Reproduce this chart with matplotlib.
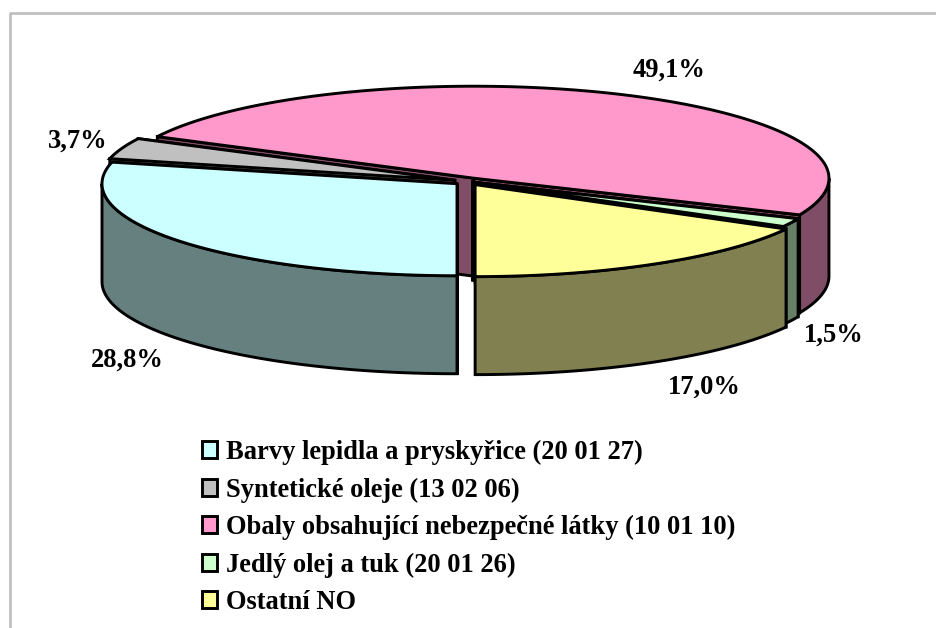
import numpy as np
import matplotlib
matplotlib.use("Agg")
import matplotlib.pyplot as plt
from matplotlib.patches import Patch, Polygon

categories = [
    "Barvy lepidla a pryskyřice (20 01 27)",
    "Syntetické oleje (13 02 06)",
    "Obaly obsahující nebezpečné látky (10 01 10)",
    "Jedlý olej a tuk (20 01 26)",
    "Ostatní NO",
]
values = [28.8, 3.7, 49.1, 1.5, 17.0]
colors = ["#CCFFFF", "#C0C0C0", "#FF99CC", "#CCFFCC", "#FFFF99"]
side_colors = ["#668080", "#606060", "#804D66", "#668066", "#808050"]

# vzhled grafu (pixely)
explode = [14, 14, 14, 5, 14]
label_xy = [(127, 360), (78, 141), (669, 70), (834, 335), (704, 387)]
draw_order = [2, 1, 3, 0, 4]
cx, cy = 468, 181.5
rx, ry = 355, 92
depth = 98
start = 180.0

plt.rcParams["font.family"] = ["Liberation Serif", "DejaVu Serif"]
plt.rcParams["font.weight"] = "bold"

fig = plt.figure(figsize=(9.36, 6.28), dpi=100)
ax = fig.add_axes([0, 0, 1, 1])
ax.set_xlim(0, 936)
ax.set_ylim(628, 0)
ax.axis("off")

# sedy ramecek
ax.plot([9.5, 9.5, 936], [628, 13, 13], color="#C0C0C0", lw=2, zorder=0)


def rim(apex, theta):
    t = np.radians(theta)
    return np.column_stack([apex[0] + rx * np.sin(t), apex[1] - ry * np.cos(t)])


def add_poly(pts, color):
    ax.add_patch(Polygon(pts, closed=True, facecolor=color, edgecolor="black",
                         lw=2.1, joinstyle="miter", zorder=2))


edges = start + 360 * np.cumsum([0] + values) / sum(values)

for i in draw_order:
    a0, a1 = edges[i], edges[i + 1]
    mid = np.radians((a0 + a1) / 2)
    apex = (cx + explode[i] * np.sin(mid),
            cy - explode[i] * ry / rx * np.cos(mid))
    down = np.array([0, depth])

    # rezy od stredu k okraji
    for a in (a0, a1):
        p = np.vstack([apex, rim(apex, np.array([a]))])
        add_poly(np.vstack([p, p[::-1] + down]), side_colors[i])

    # vnejsi stena, jen viditelna cast (spodni polovina elipsy)
    for lo, hi in ((90, 270), (450, 630)):
        b0, b1 = max(a0, lo), min(a1, hi)
        if b1 > b0:
            arc = rim(apex, np.linspace(b0, b1, 120))
            add_poly(np.vstack([arc, arc[::-1] + down]), side_colors[i])

    # horni plocha
    arc = rim(apex, np.linspace(a0, a1, 240))
    add_poly(np.vstack([apex, arc]), colors[i])

for v, (x, y) in zip(values, label_xy):
    ax.text(x, y, f"{v:.1f}%".replace(".", ","), ha="center", va="center",
            fontsize=19.1, color="black", zorder=3)

handles = [Patch(facecolor=c, edgecolor="black", lw=2.1) for c in colors]
ax.legend(handles, categories, loc="upper left", bbox_to_anchor=(201.5 / 936, 1 - 440 / 628),
          frameon=False, fontsize=19.1, handlelength=0.6, handleheight=0.6,
          handletextpad=0.34, labelspacing=0.465, borderpad=0, borderaxespad=0)

fig.savefig("out.png", dpi=100)
